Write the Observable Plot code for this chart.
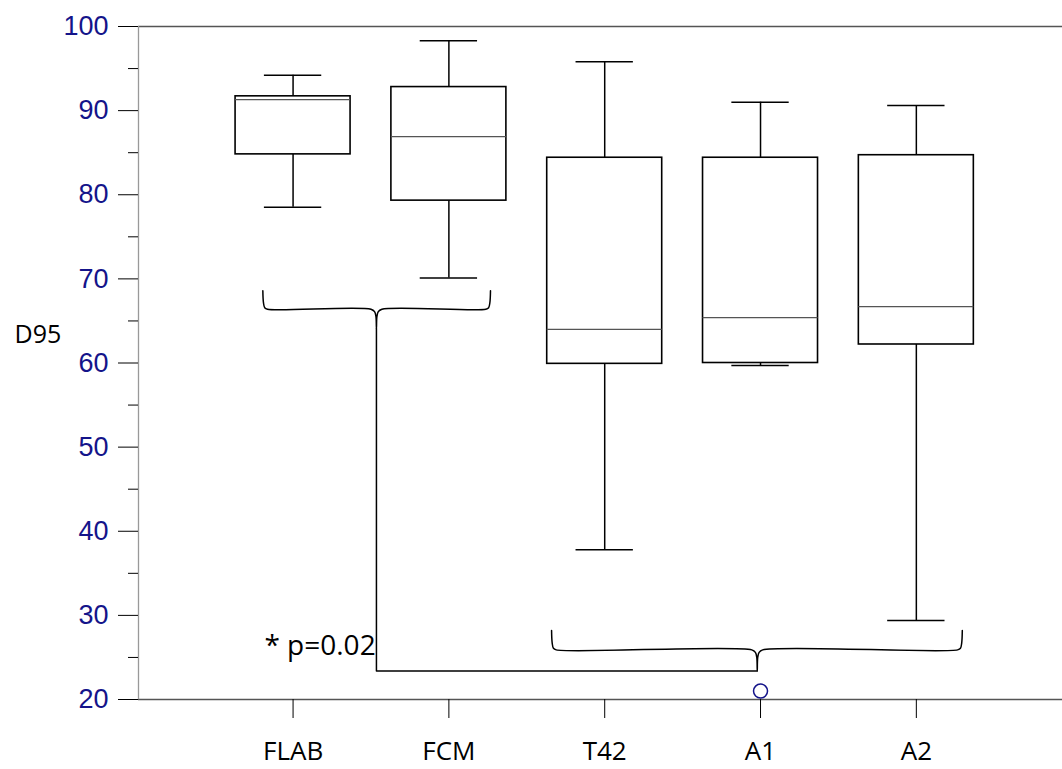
<!DOCTYPE html>
<html>
<head>
<meta charset="utf-8">
<script src="https://cdn.jsdelivr.net/npm/d3@7"></script>
<script src="https://cdn.jsdelivr.net/npm/@observablehq/plot@0.6"></script>
<style>
  html, body { margin: 0; padding: 0; background: #fff; }
  #chart { width: 1062px; height: 769px; }
</style>
</head>
<body>
<div id="chart"></div>
<script>
// ---- data ----
const categories = ["FLAB", "FCM", "T42", "A1", "A2"];
const whiskerHigh = [94.2, 98.3, 95.8, 91.0, 90.6];
const q3 = [91.7, 92.8, 84.4, 84.4, 84.7];
const medians = [91.3, 86.9, 64.0, 65.4, 66.7];
const q1 = [84.8, 79.3, 59.9, 60.0, 62.2];
const whiskerLow = [78.5, 70.1, 37.8, 59.7, 29.4];
const outlierCategory = ["A1"];
const outlierValue = [21.0];
const yTicks = [20, 30, 40, 50, 60, 70, 80, 90, 100];
const yMinorTicks = [25, 35, 45, 55, 65, 75, 85, 95];
// brackets: [left, right, middle, hook-top, bar, tip] in chart units
const bracketA = [-0.194, 1.267, 0.535, 68.6, 66.4, 64.1];
const bracketB = [1.659, 4.295, 2.979, 28.2, 25.9, 23.4];
const significance = "* p=0.02";
const sigPos = [0.53, 26.3];
const yLabel = "D95";
const yLabelValue = 63.3;

// ---- build ----
const boxes = categories.map((c, i) => ({
  i, c, hi: whiskerHigh[i], q3: q3[i], med: medians[i], q1: q1[i], lo: whiskerLow[i]
}));
const outliers = outlierCategory.map((c, k) => ({ i: categories.indexOf(c), v: outlierValue[k] }));

function bracePts(b, id) {
  const [x0, x1, xm, yTop, yBar, yTip] = b;
  const h = yTop - yBar;
  return [
    [x0, yTop], [x0 + 0.004, yBar + h * 0.35], [x0 + 0.012, yBar + h * 0.08], [x0 + 0.03, yBar],
    [xm - 0.035, yBar], [xm - 0.012, yBar - 0.3], [xm - 0.003, yBar - 0.9], [xm, yTip],
    [xm + 0.003, yBar - 0.9], [xm + 0.012, yBar - 0.3], [xm + 0.035, yBar],
    [x1 - 0.03, yBar], [x1 - 0.012, yBar + h * 0.08], [x1 - 0.004, yBar + h * 0.35], [x1, yTop]
  ].map(([x, y]) => ({ x, y, id }));
}
const braces = [...bracePts(bracketA, "a"), ...bracePts(bracketB, "b")];
const connector = [
  { x: bracketA[2], y: bracketA[5] },
  { x: bracketA[2], y: bracketB[5] },
  { x: bracketB[2], y: bracketB[5] }
];

const HW = 0.369, CW = 0.184;
const xDomain = [-0.992, 4.938];
const navy = "#14148a";

const chart = Plot.plot({
  width: 1062,
  height: 769,
  marginLeft: 138,
  marginRight: 0,
  marginTop: 26,
  marginBottom: 70,
  style: { background: "#fff", overflow: "visible" },
  x: { type: "linear", domain: xDomain },
  y: { domain: [20, 100] },
  marks: [
    // frame lines
    Plot.ruleY([20, 100], { stroke: "#555", strokeWidth: 1.3 }),
    Plot.ruleX([xDomain[0]], { stroke: "#999", strokeWidth: 1.3 }),
    // y axis
    Plot.axisY({
      ticks: yTicks, tickSize: 20, tickPadding: 10,
      fontSize: 27, fontFamily: "Liberation Sans, Arial, sans-serif",
      color: navy, stroke: "#000", label: null
    }),
    Plot.axisY({ ticks: yMinorTicks, tickSize: 10, text: null, label: null, stroke: "#000" }),
    // x axis
    Plot.axisX({
      ticks: d3.range(categories.length), tickSize: 19, tickPadding: 23,
      tickFormat: (i) => categories[i],
      fontSize: 26, fontFamily: "Open Sans, sans-serif", color: "#000",
      stroke: "#000", label: null
    }),
    // y label
    Plot.text([yLabel], {
      frameAnchor: "left", y: () => yLabelValue, dx: -124, textAnchor: "start",
      fontSize: 25, fontFamily: "Open Sans, sans-serif", fill: "#000"
    }),
    // whiskers
    Plot.ruleX(boxes, { x: "i", y1: "q3", y2: "hi", stroke: "#000", strokeWidth: 1.5 }),
    Plot.ruleX(boxes, { x: "i", y1: "lo", y2: "q1", stroke: "#000", strokeWidth: 1.5 }),
    Plot.ruleY(boxes, { y: "hi", x1: (d) => d.i - CW, x2: (d) => d.i + CW, stroke: "#000", strokeWidth: 1.5 }),
    Plot.ruleY(boxes, { y: "lo", x1: (d) => d.i - CW, x2: (d) => d.i + CW, stroke: "#000", strokeWidth: 1.5 }),
    // boxes
    Plot.rect(boxes, {
      x1: (d) => d.i - HW, x2: (d) => d.i + HW, y1: "q1", y2: "q3",
      fill: "#fff", stroke: "#000", strokeWidth: 1.6
    }),
    Plot.ruleY(boxes, { y: "med", x1: (d) => d.i - HW, x2: (d) => d.i + HW, stroke: "#555", strokeWidth: 1.2 }),
    // outlier
    Plot.dot(outliers, { x: "i", y: "v", r: 7, stroke: navy, strokeWidth: 1.5, fill: "none" }),
    // braces and connector
    Plot.line(braces, { x: "x", y: "y", z: "id", stroke: "#000", strokeWidth: 1.5, curve: "catmull-rom" }),
    Plot.line(connector, { x: "x", y: "y", stroke: "#000", strokeWidth: 1.5 }),
    // significance text
    Plot.text([significance], {
      x: () => sigPos[0], y: () => sigPos[1], textAnchor: "end",
      fontSize: 28, fontFamily: "Open Sans, sans-serif", fill: "#000"
    })
  ]
});
document.getElementById("chart").appendChild(chart);
</script>
</body>
</html>
